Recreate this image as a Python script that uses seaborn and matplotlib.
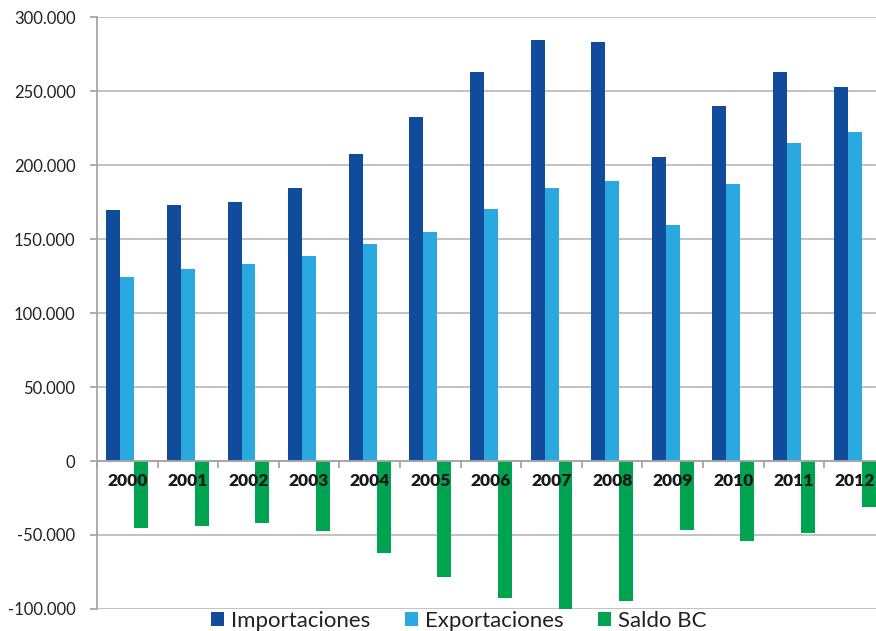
import matplotlib
matplotlib.use("Agg")
import matplotlib.pyplot as plt
from matplotlib.ticker import FuncFormatter, FixedLocator
import numpy as np
import pandas as pd
import seaborn as sns

# Balanza comercial, 2000-2012
years = ["2000", "2001", "2002", "2003", "2004", "2005", "2006",
         "2007", "2008", "2009", "2010", "2011", "2012"]
importaciones = [169600, 172800, 175000, 184300, 207600, 232400, 262600,
                 284500, 283300, 205400, 239700, 262600, 252900]
exportaciones = [124100, 129700, 133300, 138300, 146800, 155000, 170400,
                 184500, 188900, 159700, 187000, 214900, 222400]
saldo_bc = [-45100, -43700, -41900, -47500, -62000, -78600, -92800,
            -100000, -94400, -46800, -54000, -48400, -30900]

series_names = ["Importaciones", "Exportaciones", "Saldo BC"]
series_colors = ["#114B9C", "#2AA9E0", "#00A34F"]
y_ticks = [-100000, -50000, 0, 50000, 100000, 150000, 200000, 250000, 300000]

df = pd.DataFrame({
    "Año": years * 3,
    "Serie": [series_names[0]] * len(years) + [series_names[1]] * len(years)
             + [series_names[2]] * len(years),
    "Valor": importaciones + exportaciones + saldo_bc,
})

sns.set_theme(style="white")
plt.rcParams["font.family"] = ["Lato", "DejaVu Sans"]

fig = plt.figure(figsize=(8.76, 6.31), dpi=100)
ax = fig.add_axes([0.1107, 0.0349, 0.8995, 0.938])

sns.barplot(data=df, x="Año", y="Valor", hue="Serie", hue_order=series_names,
            palette=series_colors, width=0.69, gap=0, saturation=1,
            linewidth=0, errorbar=None, ax=ax)

ax.set_xlim(-0.5, len(years) - 0.5)
ax.set_ylim(-100000, 300000)
ax.set_xlabel("")
ax.set_ylabel("")

grid_grey = "#A6A6A6"
ax.yaxis.set_major_locator(FixedLocator(y_ticks))
ax.yaxis.set_major_formatter(
    FuncFormatter(lambda v, _: f"{int(round(v)):,}".replace(",", ".")))
ax.yaxis.grid(True, color="#BDBDBD", linewidth=1.3)
ax.yaxis.set_zorder(0.5)
ax.xaxis.set_zorder(3)

for side in ("top", "right"):
    ax.spines[side].set_visible(False)
ax.spines["left"].set_color(grid_grey)
ax.spines["left"].set_linewidth(1.3)
ax.spines["bottom"].set_position(("data", 0))
ax.spines["bottom"].set_color(grid_grey)
ax.spines["bottom"].set_linewidth(1.3)

ax.tick_params(axis="y", which="major", direction="out", length=5,
               width=1.3, color=grid_grey, pad=10.5, labelsize=12,
               labelcolor="#222222", left=True)
ax.tick_params(axis="x", which="major", length=0, pad=8.5, labelsize=12.5,
               labelcolor="#1A1A1A")
for lbl in ax.get_xticklabels():
    lbl.set_fontweight("heavy")

# category separators on the zero line
ax.set_xticks(np.arange(-0.5, len(years) + 0.5, 1.0), minor=True)
ax.tick_params(axis="x", which="minor", direction="out", length=5,
               width=1.3, color=grid_grey, bottom=True)

sns.move_legend(ax, "lower center", bbox_to_anchor=(0.5234, 0.0),
                bbox_transform=fig.transFigure, ncol=3, frameon=False,
                title=None, fontsize=16, handlelength=0.6, handleheight=0.6,
                handletextpad=0.3, columnspacing=1.55, borderaxespad=0,
                borderpad=0)
for txt in ax.get_legend().get_texts():
    txt.set_color("#222222")

fig.savefig("out.png", dpi=100)
